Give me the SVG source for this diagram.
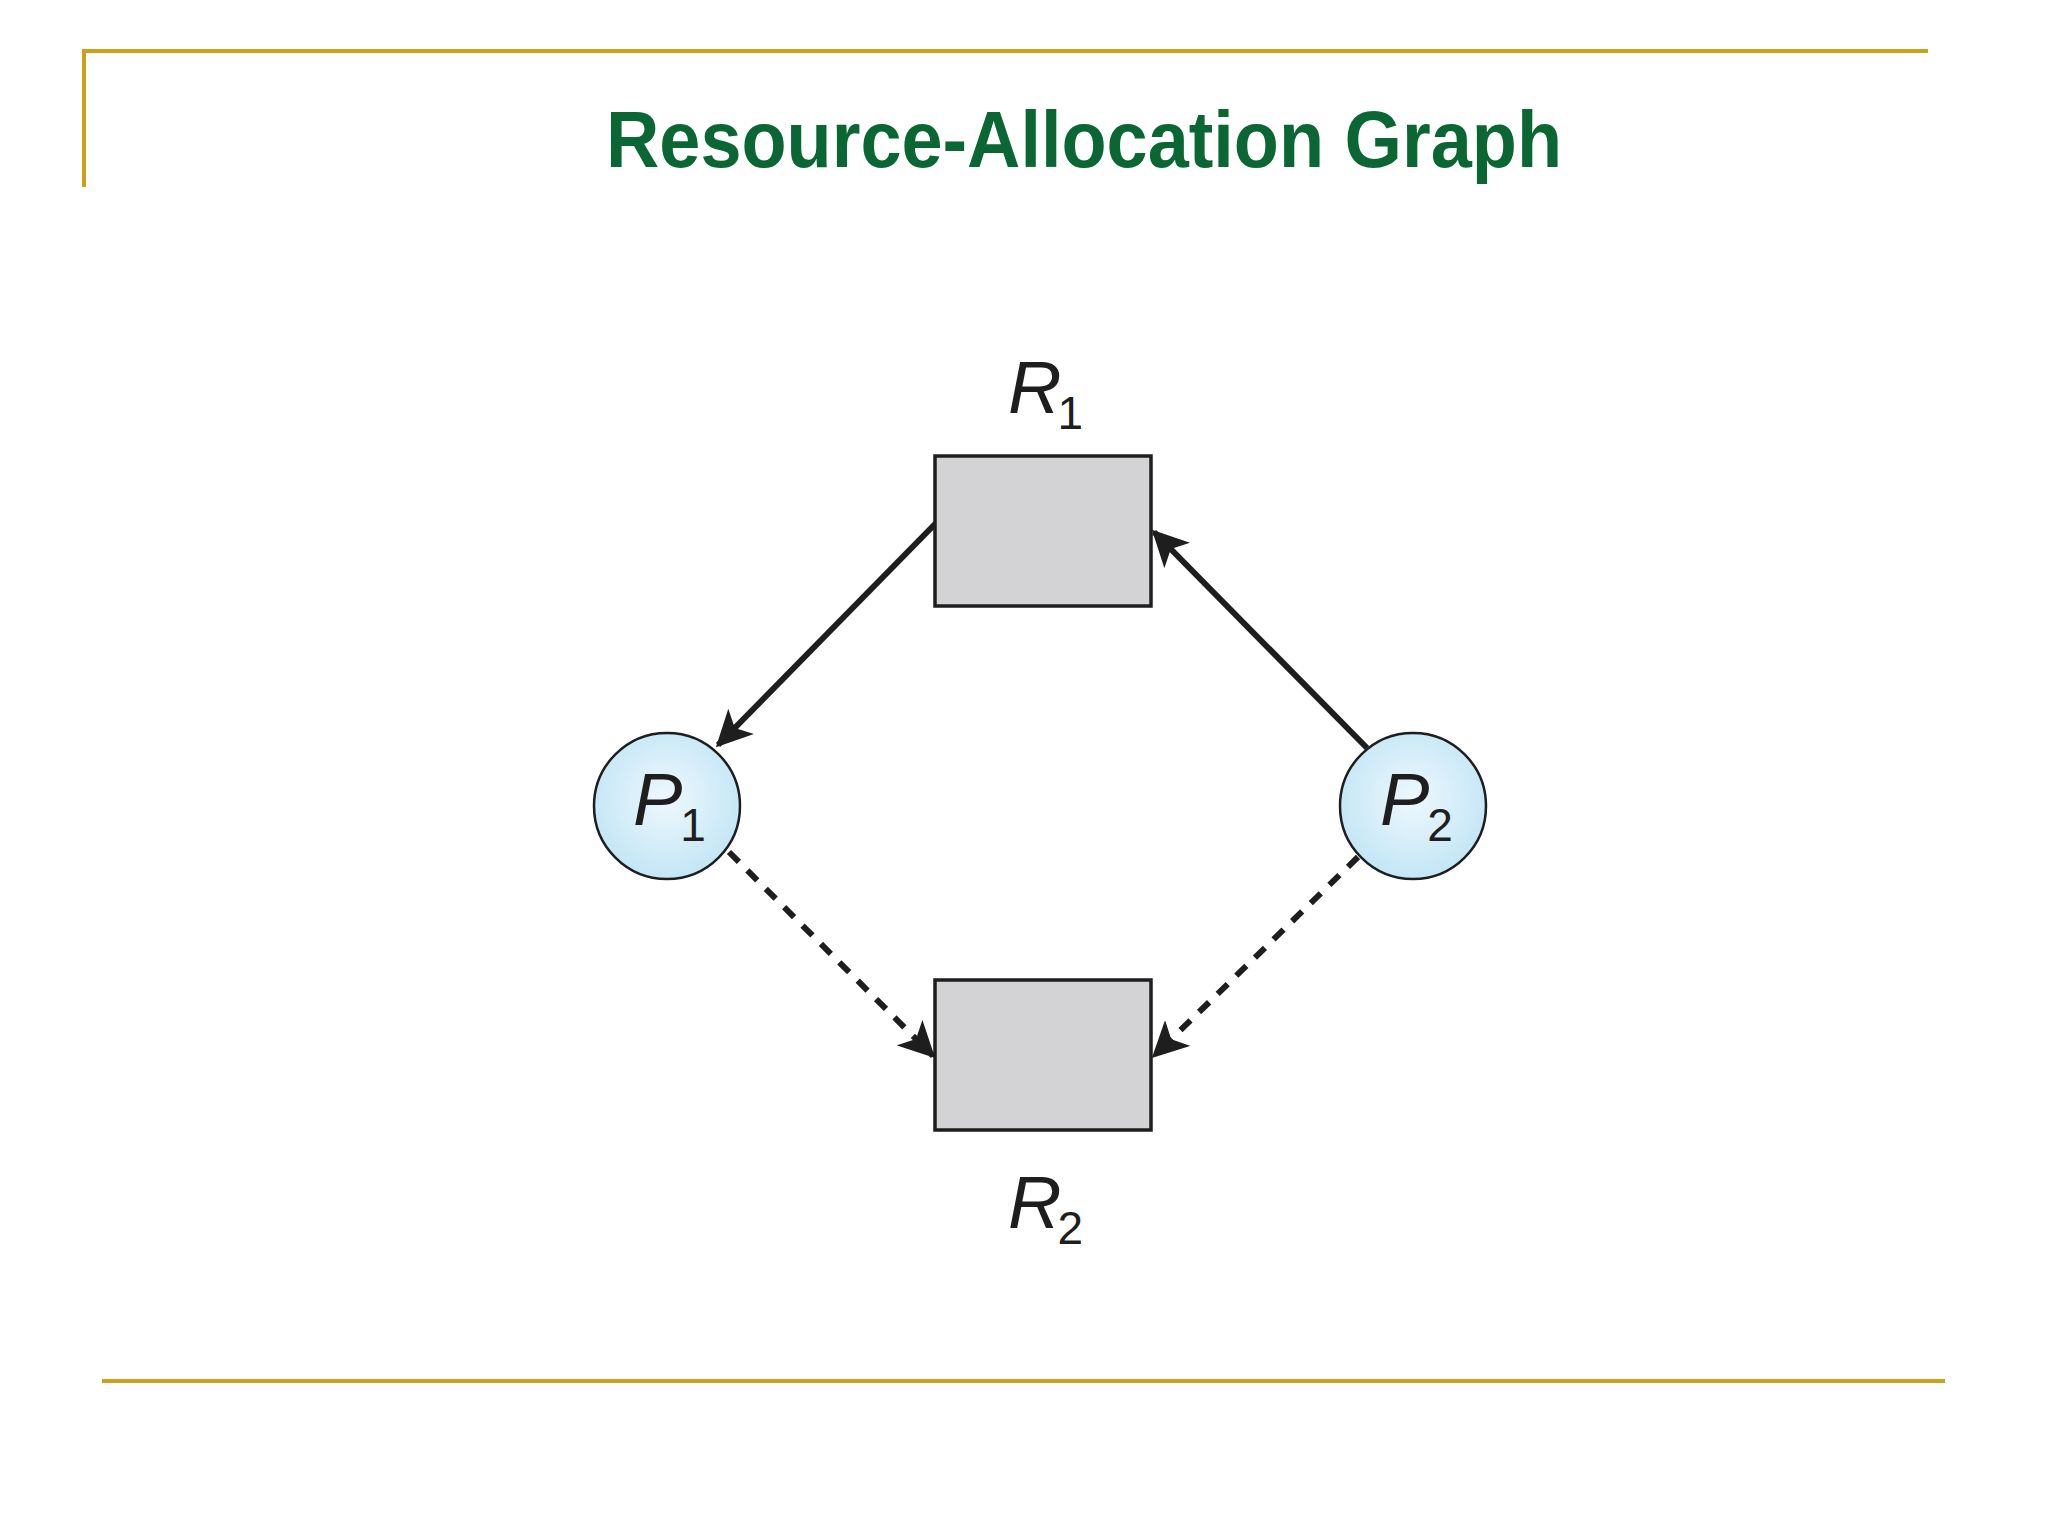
<svg xmlns="http://www.w3.org/2000/svg" width="2048" height="1536" viewBox="0 0 2048 1536">
<style>
.rule{stroke:#c9a11b;stroke-width:4;fill:none}
.res{fill:#d3d3d5;stroke:#1e1e1e;stroke-width:3.5}
.proc{fill:url(#g);stroke:#1e1e1e;stroke-width:2.5}
.lbl{font-family:"Liberation Sans",Arial,sans-serif;font-style:italic;font-size:74px;fill:#1e1e1e}
.sub{font-style:normal;font-size:46px}
.e{stroke:#1e1e1e;stroke-width:6;fill:none;marker-end:url(#a)}
.d{stroke-dasharray:14 12}
</style>
<defs>
<radialGradient id="g" cx="0.5" cy="0.45" r="0.6"><stop offset="0" stop-color="#eef8fd"/><stop offset="1" stop-color="#bfe4f5"/></radialGradient>
<marker id="a" markerWidth="6" markerHeight="6" refX="5.5" refY="3" orient="auto" markerUnits="strokeWidth"><path d="M0,0 L6,3 L0,6 L1.5,3 Z" fill="#1e1e1e"/></marker>
</defs>
<rect width="2048" height="1536" fill="#fff"/>
<path class="rule" d="M84,187 V51 H1928"/>
<path class="rule" d="M102,1381 H1945"/>
<text x="1084" y="167" text-anchor="middle" font-family="Liberation Sans,Arial,sans-serif" font-weight="bold" font-size="80" fill="#0a6632" textLength="956" lengthAdjust="spacingAndGlyphs">Resource-Allocation Graph</text>
<g id="connectors">
<line class="e" x1="938" y1="521" x2="718" y2="745"/>
<line class="e" x1="1367" y1="748" x2="1154" y2="532"/>
<line class="e d" x1="729" y1="852" x2="933" y2="1056"/>
<line class="e d" x1="1358" y1="857" x2="1154" y2="1056"/>
</g>
<g id="R1"><rect class="res" x="935" y="456" width="216" height="150"/><text class="lbl" x="1008" y="413">R<tspan class="sub" dx="-4" dy="16">1</tspan></text></g>
<g id="R2"><rect class="res" x="935" y="980" width="216" height="150"/><text class="lbl" x="1008" y="1228">R<tspan class="sub" dx="-4" dy="16">2</tspan></text></g>
<g id="P1"><circle class="proc" cx="667" cy="806" r="73"/><text class="lbl" x="633" y="825">P<tspan class="sub" dx="-2" dy="16">1</tspan></text></g>
<g id="P2"><circle class="proc" cx="1413" cy="806" r="73"/><text class="lbl" x="1380" y="825">P<tspan class="sub" dx="-2" dy="16">2</tspan></text></g>
</svg>
